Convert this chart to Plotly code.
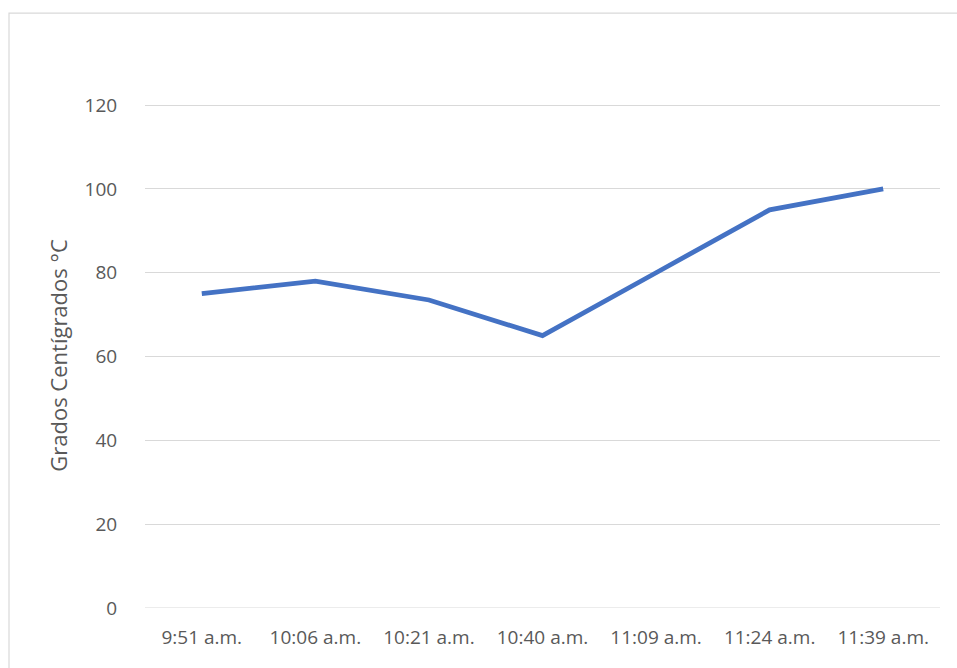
import plotly.graph_objects as go

# Temperature readings over the morning
horas = ["9:51 a.m.", "10:06 a.m.", "10:21 a.m.", "10:40 a.m.",
         "11:09 a.m.", "11:24 a.m.", "11:39 a.m."]
temperaturas = [75, 78, 73.5, 65, 80, 95, 100]
y_ticks = [0, 20, 40, 60, 80, 100, 120]

fig = go.Figure()
fig.add_trace(go.Scatter(
    x=horas, y=temperaturas, mode="lines",
    line=dict(color="#4472C4", width=4.8),
    hoverinfo="x+y",
))

font_family = "Open Sans, Liberation Sans, sans-serif"

y_top = 120.5
plot_h = 503 * y_top / 120

fig.update_layout(
    width=957, height=668,
    margin=dict(l=145, r=17, t=608 - plot_h, b=60),
    paper_bgcolor="white", plot_bgcolor="white",
    showlegend=False,
    font=dict(family=font_family, color="#595959", size=19),
    xaxis=dict(
        type="category", range=[-0.5, 6.5],
        showgrid=False, zeroline=False, showline=False,
        ticks="outside", ticklen=12, tickcolor="rgba(0,0,0,0)",
        tickfont=dict(size=19, color="#595959"),
    ),
    yaxis=dict(
        range=[0, y_top], tickvals=y_ticks,
        showgrid=True, gridcolor="#D9D9D9", gridwidth=1,
        zeroline=False, showline=False,
        ticks="outside", ticklen=23, tickcolor="rgba(0,0,0,0)",
        tickfont=dict(size=19, color="#595959"),
        title=dict(text="Grados Centígrados °C", standoff=10,
                   font=dict(size=22, color="#595959")),
    ),
    shapes=[
        # baseline at zero
        dict(type="line", xref="paper", yref="y", x0=0, x1=1, y0=0, y1=0,
             line=dict(color="#D9D9D9", width=1.2)),
        # chart area frame
        dict(type="rect", xref="paper", yref="paper",
             x0=(9 - 145) / 795, x1=1.05,
             y0=-0.2, y1=(608 - 13) / plot_h,
             line=dict(color="#D9D9D9", width=1.2), layer="below"),
    ],
)

fig.write_html("out.html")
